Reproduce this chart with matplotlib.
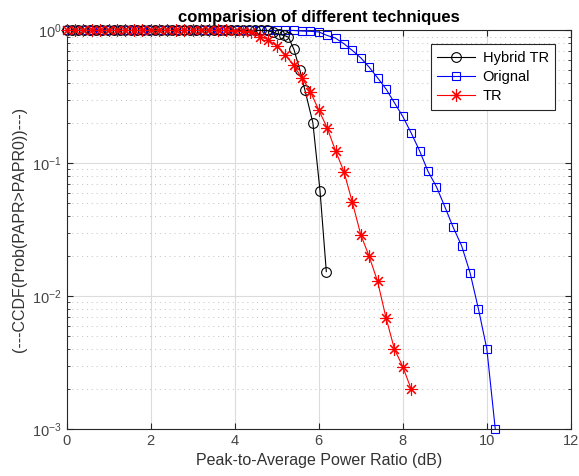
import matplotlib
matplotlib.use('Agg')
import matplotlib.pyplot as plt
import numpy as np

plt.rcParams['font.family'] = ['Liberation Sans', 'DejaVu Sans']

# Orignal : grille 0:0.2:10.2
x_orig = np.round(np.arange(0, 10.21, 0.2), 1)
y_orig = [1.0] * 28 + [0.99, 0.985, 0.975, 0.917, 0.875, 0.794, 0.707, 0.622,
                       0.529, 0.440, 0.363, 0.286, 0.225, 0.169, 0.124, 0.0869,
                       0.0666, 0.0471, 0.0329, 0.0239, 0.0150, 0.0080, 0.0040, 0.001]

# TR : grille 0:0.2:8.2
x_tr = np.round(np.arange(0, 8.21, 0.2), 1)
y_tr = [1.0] * 20 + [0.995, 0.99, 0.97, 0.90, 0.851, 0.762, 0.659, 0.545, 0.440,
                     0.347, 0.252, 0.185, 0.124, 0.0864, 0.0507, 0.0290, 0.0199,
                     0.0129, 0.00688, 0.0040, 0.00294, 0.00199]

# Hybrid TR
x_hyb = list(np.round(np.arange(0, 4.85, 0.14), 2)) + [4.92, 5.06, 5.18, 5.28, 5.41,
                                                       5.55, 5.67, 5.86, 6.03, 6.18]
y_hyb = [1.0] * 35 + [0.97, 0.933, 0.917, 0.89, 0.719, 0.505, 0.357, 0.202, 0.0622, 0.0153]

fig = plt.figure(figsize=(5.79, 4.76), dpi=100)
ax = fig.add_axes([0.115, 0.099, 0.871, 0.837])

ax.semilogy(x_hyb, y_hyb, '-o', color='black', lw=0.8, ms=7, mfc='none', mew=0.8,
            label='Hybrid TR', clip_on=False, zorder=5)
ax.semilogy(x_orig, y_orig, '-s', color='blue', lw=0.8, ms=6, mfc='none', mew=0.8,
            label='Orignal', clip_on=False, zorder=4)
ax.semilogy(x_tr, y_tr, '-', marker=(8, 2, 0), color='red', lw=0.8, ms=9, mew=0.8,
            label='TR', clip_on=False, zorder=6)

ax.set_xlim(0, 12)
ax.set_ylim(1e-3, 1)
ax.set_xticks([0, 2, 4, 6, 8, 10, 12])

# grille style matlab
ax.grid(True, which='major', color='#dcdcdc', lw=0.8, ls='-')
ax.grid(True, which='minor', axis='y', color='#c0c0c0', lw=0.7, ls=(0, (1, 4)))
ax.set_axisbelow(True)

ax.tick_params(which='both', direction='in', top=True, right=True, colors='#262626', labelsize=10.5)
ax.tick_params(axis='both', labelcolor='#444444')
ax.tick_params(which='major', length=4)
ax.tick_params(which='minor', length=2)
for s in ax.spines.values():
    s.set_color('#262626')
    s.set_linewidth(0.8)

ax.set_title('comparision of different techniques', fontsize=12, fontweight='bold', pad=6)
ax.set_xlabel('Peak-to-Average Power Ratio (dB)', fontsize=11.5, color='#333333', labelpad=4)
ax.set_ylabel('(---CCDF(Prob(PAPR>PAPR0))---)', fontsize=11.5, color='#333333', labelpad=4)

leg = ax.legend(loc='upper right', bbox_to_anchor=(0.969, 0.965), borderaxespad=0, fancybox=False,
                framealpha=1, edgecolor='#262626', fontsize=10.5, handlelength=2.6,
                borderpad=0.45, labelspacing=0.35, handletextpad=0.5)
leg.get_frame().set_linewidth(0.8)

fig.savefig('out.png', dpi=100)
